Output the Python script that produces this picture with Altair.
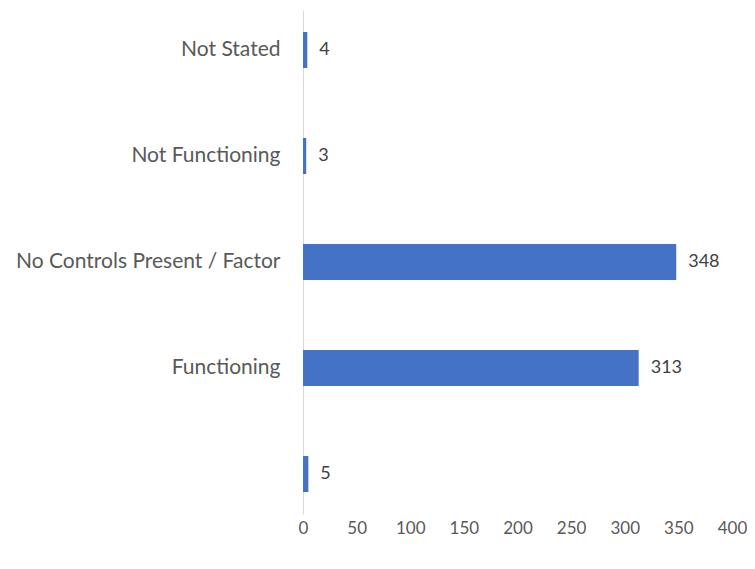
import altair as alt
import pandas as pd

categories = ["Not Stated", "Not Functioning", "No Controls Present / Factor", "Functioning", " "]
values = [4, 3, 348, 313, 5]

df = pd.DataFrame({"category": categories, "count": values})

FONT = "Lato"
GRAY = "#595959"

y_enc = alt.Y(
    "category:N",
    sort=categories,
    scale=alt.Scale(paddingInner=0.66, paddingOuter=0.2075),
    axis=alt.Axis(
        title=None,
        ticks=False,
        domain=True,
        domainColor="#d9d9d9",
        domainWidth=1,
        labelFont=FONT,
        labelFontSize=21,
        labelColor=GRAY,
        labelPadding=23,
        labelLimit=400,
        minExtent=295,
        maxExtent=295,
    ),
)

x_enc = alt.X(
    "count:Q",
    scale=alt.Scale(domain=[0, 400], nice=False),
    axis=alt.Axis(
        title=None,
        values=[0, 50, 100, 150, 200, 250, 300, 350, 400],
        grid=False,
        ticks=False,
        domain=False,
        labelFont=FONT,
        labelFontSize=17,
        labelColor=GRAY,
        labelPadding=6,
        labelFlush=False,
    ),
)

bars = alt.Chart(df).mark_bar(color="#4472C4").encode(y=y_enc, x=x_enc)

labels = alt.Chart(df).mark_text(
    align="left", baseline="middle", dx=12, font=FONT, fontSize=18, color="#404040"
).encode(y=alt.Y("category:N", sort=categories), x="count:Q", text="count:Q")

chart = (
    alt.layer(bars, labels)
    .properties(
        width=429,
        height=504,
        padding={"left": 0, "top": 2, "right": 0, "bottom": 5},
        background="white",
    )
    .configure_view(stroke="transparent", strokeWidth=0)
)

chart.save("out.html", embed_options={"renderer": "svg", "actions": False})
